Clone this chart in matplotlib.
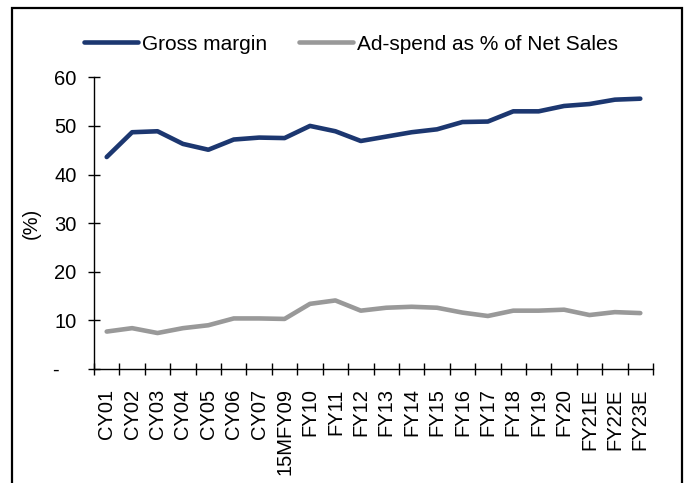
import matplotlib
matplotlib.use("Agg")
import matplotlib.pyplot as plt
from matplotlib.patches import Rectangle
import numpy as np

plt.rcParams['font.family'] = ['Liberation Sans', 'DejaVu Sans']

periods = ["CY01", "CY02", "CY03", "CY04", "CY05", "CY06", "CY07", "15MFY09",
           "FY10", "FY11", "FY12", "FY13", "FY14", "FY15", "FY16", "FY17",
           "FY18", "FY19", "FY20", "FY21E", "FY22E", "FY23E"]
gross_margin = [43.6, 48.7, 48.9, 46.3, 45.1, 47.2, 47.6, 47.5,
                50.0, 48.9, 46.9, 47.8, 48.7, 49.3, 50.8, 50.9,
                53.0, 53.0, 54.1, 54.5, 55.4, 55.6]
ad_spend = [7.7, 8.4, 7.4, 8.4, 9.0, 10.4, 10.4, 10.3,
            13.4, 14.1, 12.0, 12.6, 12.8, 12.6, 11.6, 10.9,
            12.0, 12.0, 12.2, 11.1, 11.7, 11.5]
y_ticks = [0, 10, 20, 30, 40, 50, 60]
y_tick_labels = ["-   ", "10", "20", "30", "40", "50", "60"]

navy = "#1C3770"
grey = "#999999"
fs = 14.5

fig = plt.figure(figsize=(6.88, 4.83), dpi=100)
ax = fig.add_axes([94 / 688, 1 - 369 / 483, 559 / 688, (369 - 77.3) / 483])

x = np.arange(len(periods))
ax.plot(x, gross_margin, color=navy, lw=3.3, solid_capstyle='round',
        solid_joinstyle='round', label="Gross margin")
ax.plot(x, ad_spend, color=grey, lw=3.3, solid_capstyle='round',
        solid_joinstyle='round', label="Ad-spend as % of Net Sales")

ax.set_xlim(-0.5, len(periods) - 0.5)
ax.set_ylim(0, 60)

# boundary ticks on the category axis, labels centred between them
ax.set_xticks(np.arange(-0.5, len(periods), 1.0))
ax.set_xticklabels([])
ax.set_xticks(x, minor=True)
ax.set_xticklabels(periods, minor=True, rotation=90, fontsize=fs, va='top')
ax.tick_params(axis='x', which='major', direction='inout', length=8.5, width=1)
ax.tick_params(axis='x', which='minor', length=0, pad=14)

ax.set_yticks(y_ticks)
ax.set_yticklabels(y_tick_labels, fontsize=fs)
ax.tick_params(axis='y', direction='inout', length=9, width=1, pad=8)

for side in ('top', 'right'):
    ax.spines[side].set_visible(False)
for side in ('left', 'bottom'):
    ax.spines[side].set_linewidth(1)
    ax.spines[side].set_color('black')

ax.set_ylabel("(%)", fontsize=fs)
ax.yaxis.set_label_coords(-0.095, 0.5)

leg = fig.legend(loc='center', bbox_to_anchor=(351 / 688, 1 - 44 / 483), ncol=2,
                 frameon=False, fontsize=15, handlelength=2.6, handletextpad=0.2,
                 columnspacing=1.5, borderpad=0)
for line in leg.get_lines():
    line.set_linewidth(3.3)

frame = Rectangle((12 / 688, -0.05), (682 - 12) / 688, 1.05 - 8 / 483,
                  transform=fig.transFigure, fill=False, edgecolor='black',
                  linewidth=1.6, clip_on=False)
fig.add_artist(frame)

fig.savefig("out.png", dpi=100)
